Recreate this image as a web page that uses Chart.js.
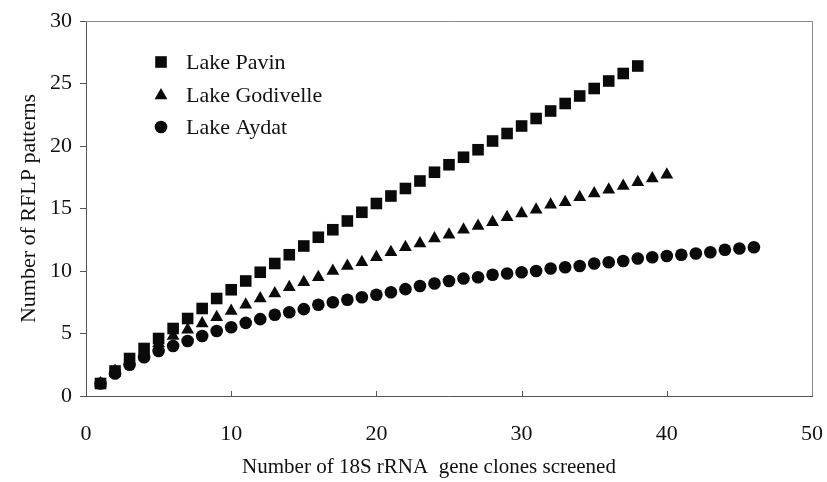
<!DOCTYPE html>
<html>
<head>
<meta charset="utf-8">
<script src="https://cdn.jsdelivr.net/npm/chart.js@4.4.0/dist/chart.umd.min.js"></script>
<style>
  html, body { margin: 0; padding: 0; background: #fff; }
  #wrap { width: 827px; height: 482px; }
</style>
</head>
<body>
<div id="wrap"><canvas id="c" width="827" height="482"></canvas></div>
<script>
const seriesNames = ["Lake Pavin", "Lake Godivelle", "Lake Aydat"];
const pavin = [1, 2, 3, 3.8, 4.6, 5.4, 6.2, 7.0, 7.8, 8.5, 9.2, 9.9, 10.6, 11.3, 12.0, 12.7, 13.3, 14.0, 14.7, 15.4, 16.0, 16.6, 17.2, 17.9, 18.5, 19.1, 19.7, 20.4, 21.0, 21.6, 22.2, 22.8, 23.4, 24.0, 24.6, 25.2, 25.8, 26.4];
const godivelle = [1, 2, 2.8, 3.5, 4.2, 4.8, 5.3, 5.8, 6.3, 6.8, 7.3, 7.8, 8.2, 8.7, 9.1, 9.5, 10.0, 10.4, 10.7, 11.1, 11.5, 11.9, 12.2, 12.6, 12.9, 13.3, 13.6, 13.9, 14.3, 14.6, 14.9, 15.3, 15.5, 15.9, 16.2, 16.5, 16.8, 17.1, 17.4, 17.7];
const aydat = [1, 1.8, 2.5, 3.1, 3.6, 4.0, 4.4, 4.8, 5.2, 5.5, 5.85, 6.15, 6.5, 6.7, 6.95, 7.3, 7.5, 7.7, 7.9, 8.1, 8.3, 8.55, 8.8, 9.0, 9.2, 9.4, 9.5, 9.7, 9.8, 9.9, 10.0, 10.2, 10.3, 10.4, 10.6, 10.7, 10.8, 11.0, 11.1, 11.2, 11.3, 11.4, 11.5, 11.7, 11.8, 11.9];
const xTicks = [0, 10, 20, 30, 40, 50];
const yTicks = [0, 5, 10, 15, 20, 25, 30];
const xTitle = "Number of 18S rRNA  gene clones screened";
const yTitle = "Number of RFLP patterns";

function toPoints(arr) { return arr.map((v, i) => ({ x: i + 1, y: v })); }

const FONT = "'Liberation Serif', 'Times New Roman', serif";
const styles = [
  { pointStyle: 'rect', radius: 8.2 },
  { pointStyle: 'triangle', radius: 7.4 },
  { pointStyle: 'circle', radius: 6.3 }
];
const dataArrays = [pavin, godivelle, aydat];

const datasets = seriesNames.map((name, i) => ({
  label: name,
  data: toPoints(dataArrays[i]),
  showLine: false,
  pointStyle: styles[i].pointStyle,
  pointRadius: styles[i].radius,
  pointHoverRadius: styles[i].radius,
  pointBackgroundColor: '#0a0a0a',
  pointBorderColor: '#0a0a0a',
  pointBorderWidth: 0,
  order: i
}));

const framePlugin = {
  id: 'frame',
  beforeDatasetsDraw(chart) {
    const { ctx, chartArea: a, scales } = chart;
    ctx.save();
    ctx.strokeStyle = '#8a8a8a';
    ctx.lineWidth = 1;
    ctx.beginPath();
    ctx.moveTo(a.left, a.top + 0.5);
    ctx.lineTo(a.right + 0.5, a.top + 0.5);
    ctx.lineTo(a.right + 0.5, a.bottom);
    ctx.stroke();
    ctx.strokeStyle = '#555';
    ctx.beginPath();
    xTicks.forEach(t => {
      if (t === 0 || t === 50) return;
      const px = Math.round(scales.x.getPixelForValue(t)) + 0.5;
      ctx.moveTo(px, a.bottom);
      ctx.lineTo(px, a.bottom - 5);
    });
    ctx.stroke();
    ctx.restore();
  },
  afterDraw(chart) {
    const { ctx, chartArea: a } = chart;
    ctx.save();
    const x0 = a.left + 75;
    const ys = [62, 95.5, 127];
    chart.data.datasets.forEach((ds, i) => {
      ctx.fillStyle = '#0a0a0a';
      ctx.strokeStyle = '#0a0a0a';
      Chart.helpers.drawPoint(ctx, { pointStyle: ds.pointStyle, radius: ds.pointRadius, rotation: 0, borderWidth: 0 }, x0, ys[i]);
      ctx.font = "22px " + FONT;
      ctx.textBaseline = 'middle';
      ctx.textAlign = 'left';
      ctx.fillStyle = '#111';
      ctx.fillText(ds.label, x0 + 25, ys[i] + 1);
    });
    // x-axis title (slightly left of centre, as in the reference)
    ctx.font = "21px " + FONT;
    ctx.textAlign = 'center';
    ctx.textBaseline = 'middle';
    ctx.fillStyle = '#111';
    ctx.fillText(xTitle, (a.left + a.right) / 2 - 20, 467);
    ctx.restore();
  }
};

new Chart(document.getElementById('c'), {
  type: 'scatter',
  data: { datasets },
  options: {
    responsive: false,
    animation: false,
    devicePixelRatio: 1,
    layout: { padding: { left: 0, right: 15, top: 21, bottom: 0 } },
    plugins: {
      legend: { display: false },
      tooltip: { enabled: false }
    },
    scales: {
      x: {
        type: 'linear',
        min: 0, max: 50,
        afterFit(s) { s.height = 86; s.paddingLeft = 0; s.paddingRight = 0; },
        afterBuildTicks(s) { s.ticks = xTicks.map(v => ({ value: v })); },
        border: { display: true, color: '#555', width: 1 },
        grid: { display: true, drawOnChartArea: false, drawTicks: false, tickLength: 0 },
        ticks: { padding: 25, color: '#111', font: { family: FONT, size: 22 } },
        title: { display: false, text: xTitle }
      },
      y: {
        type: 'linear',
        min: 0, max: 30,
        afterFit(s) { s.width = 86; s.paddingTop = 0; s.paddingBottom = 0; },
        afterBuildTicks(s) { s.ticks = yTicks.map(v => ({ value: v })); },
        border: { display: true, color: '#555', width: 1 },
        grid: { display: true, drawOnChartArea: false, drawTicks: true, tickLength: 6, color: '#555' },
        ticks: { padding: 8, color: '#111', font: { family: FONT, size: 22 } },
        title: { display: true, text: yTitle, color: '#111', font: { family: FONT, size: 22 }, padding: { top: 16, bottom: 4 } }
      }
    }
  },
  plugins: [framePlugin]
});
</script>
</body>
</html>
